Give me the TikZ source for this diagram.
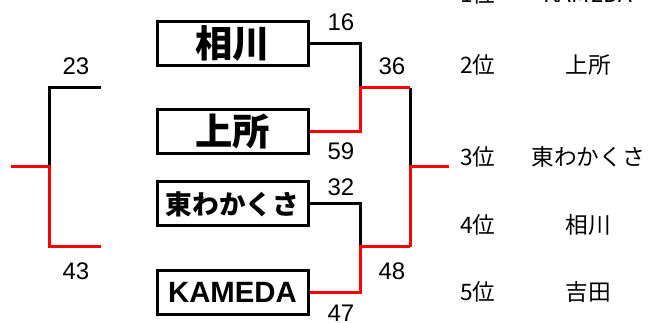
\documentclass[tikz,border=0pt]{standalone}
\usepackage{fontspec}
\setmainfont{Noto Sans CJK JP}
\newfontfamily\latinfont{Liberation Sans}
\usetikzlibrary{positioning}

\newcommand{\unitpx}{*0.75pt}
\tikzset{
  team/.style={draw=black,line width=2.25pt,minimum width=151\unitpx,minimum height=44\unitpx,inner sep=0pt,font=\bfseries},
  score/.style={font=\latinfont\fontsize{18pt}{18pt}\selectfont,inner sep=0pt},
  rank/.style={font=\fontsize{17pt}{17pt}\selectfont,inner sep=0pt},
  lose/.style={black,line width=2.25pt},
  win/.style={red,line width=2.25pt}
}

\begin{document}
\begin{tikzpicture}[x=0.75pt,y=-0.75pt]

	% frame of the sheet
	\useasboundingbox (0,0) rectangle (651,323);
	\clip (0,0) rectangle (651,323);

	% teams
	\node [team,font=\bfseries\fontsize{28pt}{28pt}\selectfont] (aikawa) at (232.5,43.5) {相川};
	\node [team,font=\bfseries\fontsize{28pt}{28pt}\selectfont] (uetokoro) at (232.5,132) {上所};
	\node [team,font=\bfseries\fontsize{20pt}{20pt}\selectfont] (higashi) at (232.5,204) {東わかくさ};
	\node [team,font=\latinfont\bfseries\fontsize{22pt}{22pt}\selectfont] (kameda) at (232.5,292.5) {KAMEDA};

	% joints
	\coordinate (semiA) at (360,88);
	\coordinate (semiB) at (360,247);
	\coordinate (finA) at (410,88);
	\coordinate (finB) at (410,247);
	\coordinate (finM) at (410,167);
	\coordinate (finOut) at (449,167);
	\coordinate (leftA) at (101,88);
	\coordinate (leftB) at (101,247);
	\coordinate (leftM) at (49,167);
	\coordinate (leftOut) at (11,167);

	% losing lines
	\draw [lose] (aikawa.east) -| (semiA);
	\draw [lose] (higashi.east) -| (semiB);
	\draw [lose] (finA) -- (finM);
	\draw [lose] (leftA) -| (leftM);

	% winning lines
	\draw [win] (uetokoro.east) -| (semiA) -- (finA);
	\draw [win] (kameda.east) -| (semiB) -- (finB);
	\draw [win] (finB) -- (finM) -- (finOut);
	\draw [win] (leftOut) -- (leftM) |- (leftB);

	% scores
	\node [score] (s16) at (341,22) {16};
	\node [score] (s59) at (341,151) {59};
	\node [score] (s32) at (341,187) {32};
	\node [score] (s47) at (341,313) {47};
	\node [score] (s36) at (392,66) {36};
	\node [score] (s48) at (392,271) {48};
	\node [score] (s23) at (76,66) {23};
	\node [score] (s43) at (76,271) {43};

	% ranking
	\foreach \n/\name/\y in {1/KAMEDA/-6, 2/上所/65, 3/東わかくさ/157, 4/相川/225, 5/吉田/292} {
		\node [rank,anchor=west] (r\n) at (460,\y) {\n{}位};
		\node [rank] (t\n) at (588,\y) {\name};
	}

\end{tikzpicture}
\end{document}
